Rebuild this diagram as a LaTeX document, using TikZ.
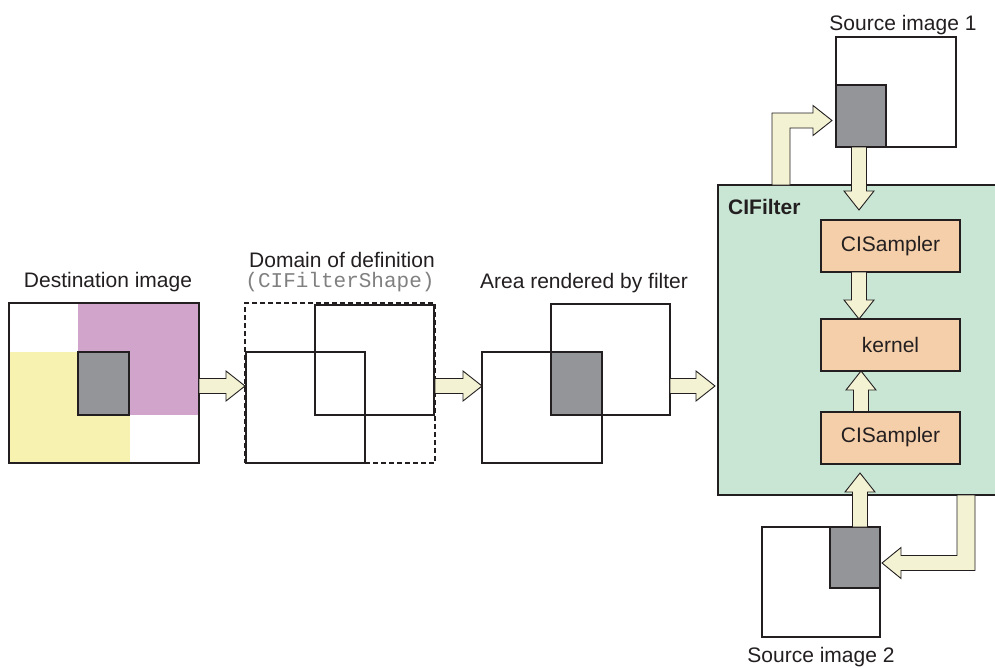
\documentclass[tikz,border=0pt]{standalone}
\usepackage{fontspec}
\setmainfont{Liberation Sans}
\setmonofont{Liberation Mono}
\usetikzlibrary{calc}
\definecolor{linec}{HTML}{231F20}
\definecolor{greenc}{HTML}{C9E6D5}
\definecolor{peachc}{HTML}{F5CFA9}
\definecolor{creamc}{HTML}{F3F2D3}
\definecolor{grayc}{HTML}{939598}
\definecolor{yellowc}{HTML}{F7F2AF}
\definecolor{magc}{HTML}{D1A5CB}
\definecolor{monoc}{HTML}{808080}
\newcommand\lbfont{\fontsize{21}{25}\selectfont}
\tikzset{
  imgrect/.style={draw=linec, line width=1.4, inner sep=0, outer sep=0},
  fat/.style={draw=linec, fill=creamc, line width=0.9, line join=miter},
  boxline/.style={draw=linec, line width=2},
  pbox/.style={draw=linec, line width=2, fill=peachc, inner sep=0, outer sep=0,
    minimum width=139, minimum height=52, font=\lbfont, text=linec},
  lbl/.style={inner sep=0, anchor=base, font=\lbfont, text=linec}
}
% horizontal arrow pointing right, tail #1, tip at x of #2
\newcommand\fatR[2]{\draw[fat] ($(#1)+(0,-7.5)$) -- ($(#2 |- #1)+(-19,-7.5)$) -- ($(#2 |- #1)+(-19,-15)$) -- (#2 |- #1) -- ($(#2 |- #1)+(-19,15)$) -- ($(#2 |- #1)+(-19,7.5)$) -- ($(#1)+(0,7.5)$) -- cycle;}
% vertical arrow pointing down (image y grows)
\newcommand\fatD[2]{\draw[fat] ($(#1)+(-7.5,0)$) -- ($(#1 |- #2)+(-7.5,-19)$) -- ($(#1 |- #2)+(-15,-19)$) -- (#1 |- #2) -- ($(#1 |- #2)+(15,-19)$) -- ($(#1 |- #2)+(7.5,-19)$) -- ($(#1)+(7.5,0)$) -- cycle;}
% vertical arrow pointing up
\newcommand\fatU[2]{\draw[fat] ($(#1)+(-7.5,0)$) -- ($(#1 |- #2)+(-7.5,19)$) -- ($(#1 |- #2)+(-15,19)$) -- (#1 |- #2) -- ($(#1 |- #2)+(15,19)$) -- ($(#1 |- #2)+(7.5,19)$) -- ($(#1)+(7.5,0)$) -- cycle;}
\begin{document}
\begin{tikzpicture}[x=1pt,y=-1pt]
\useasboundingbox (0,0) rectangle (995,667);

% Destination image
\fill[yellowc] (9,352) rectangle (130,463);
\fill[magc] (78,303) rectangle (199,415);
\node[imgrect, fill=grayc, minimum width=51, minimum height=63, anchor=north west] (dgray) at (78,352) {};
\node[imgrect, minimum width=190, minimum height=160, anchor=north west] (dest) at (9,303) {};
\node[lbl] (ldest) at (108,287) {Destination image};

% Domain of definition
\node[imgrect, line width=1.6, dash pattern=on 5pt off 3pt, minimum width=190, minimum height=160, anchor=north west] (dom) at (245,303) {};
\node[imgrect, line width=2, minimum width=119, minimum height=111, anchor=north west] (domA) at (246,352) {};
\node[imgrect, line width=2, minimum width=119, minimum height=110, anchor=north west] (domB) at (315,305) {};
\node[lbl] (ldom) at (342,267) {Domain of definition};
\node[lbl, font=\lbfont\ttfamily, text=monoc] (lshape) at (340,287) {(CIFilterShape)};

% Area rendered by filter
\node[imgrect, minimum width=120, minimum height=111, anchor=north west] (areaA) at (482,352) {};
\node[imgrect, minimum width=119, minimum height=111, anchor=north west] (areaB) at (551,304) {};
\node[imgrect, fill=grayc, minimum width=51, minimum height=63, anchor=north west] (agray) at (551,352) {};
\node[lbl] (larea) at (584,288) {Area rendered by filter};

% CIFilter
\node[fill=greenc, inner sep=0, outer sep=0, minimum width=277, minimum height=310, anchor=north west] (filter) at (718,185) {};
\draw[boxline] (filter.north east) -- (filter.north west) -- (filter.south west) -- (filter.south east);
\node[anchor=base west, inner sep=0, font=\lbfont\bfseries, text=linec] (ftitle) at (728,214) {CIFilter};
\node[pbox] (sampA) at (890.5,246) {CISampler};
\node[pbox] (kern) at (890.5,345) {kernel};
\node[pbox] (sampB) at (890.5,437.5) {CISampler};

% Source images
\node[imgrect, minimum width=120, minimum height=110, anchor=north west] (src1) at (836,37) {};
\node[imgrect, fill=grayc, minimum width=50, minimum height=62, anchor=north west] (s1gray) at (836,85) {};
\node[lbl] (ls1) at (903,30) {Source image 1};
\node[imgrect, minimum width=118, minimum height=110, anchor=north west] (src2) at (762,527) {};
\node[imgrect, fill=grayc, minimum width=50, minimum height=61, anchor=north west] (s2gray) at (830,527) {};
\node[lbl] (ls2) at (821,662) {Source image 2};

% horizontal arrows
\coordinate (a1s) at ($(dest.east)+(0,3)$);
\coordinate (a1e) at (dom.west |- a1s);
\coordinate (a2s) at (dom.east |- a1s);
\coordinate (a2e) at (areaA.west |- a1s);
\coordinate (a3s) at (areaB.east |- a1s);
\coordinate (a3e) at ($(filter.west |- a1s)+(-3,0)$);
\fatR{a1s}{a1e}
\fatR{a2s}{a2e}
\fatR{a3s}{a3e}

% vertical arrows
\coordinate (vAs) at ($(src1.south west)+(23,0)$);
\coordinate (vAe) at ($(vAs |- filter.north)+(0,25)$);
\fatD{vAs}{vAe}
\coordinate (vCs) at ($(sampA.south west)+(38,0)$);
\coordinate (vCe) at (vCs |- kern.north);
\fatD{vCs}{vCe}
\coordinate (vDs) at ($(sampB.north west)+(40,0)$);
\coordinate (vDe) at (vDs |- kern.south);
\fatU{vDs}{vDe}
\coordinate (vEs) at ($(src2.north west)+(98,0)$);
\coordinate (vEe) at ($(vEs |- filter.south)+(0,-22)$);
\fatU{vEs}{vEe}

% elbow arrow: CIFilter -> Source image 1
\coordinate (eb1) at ($(filter.north west)+(63,0)$);
\coordinate (eb2) at ($(src1.west)+(-4,28.5)$);
\draw[fat] ($(eb1)+(-9,0)$) -- ($(eb1 |- eb2)+(-9,-7.5)$) -- ($(eb2)+(-19,-7.5)$) -- ($(eb2)+(-19,-15)$) -- (eb2) -- ($(eb2)+(-19,15)$) -- ($(eb2)+(-19,7.5)$) -- ($(eb1 |- eb2)+(9,7.5)$) -- ($(eb1)+(9,0)$) -- cycle;

% elbow arrow: CIFilter -> Source image 2
\coordinate (ef1) at ($(filter.south west)+(248,0)$);
\coordinate (ef2) at ($(src2.east)+(2,-19)$);
\draw[fat] ($(ef1)+(-9,0)$) -- ($(ef1 |- ef2)+(-9,-7.5)$) -- ($(ef2)+(19,-7.5)$) -- ($(ef2)+(19,-15.5)$) -- (ef2) -- ($(ef2)+(19,15.5)$) -- ($(ef2)+(19,7.5)$) -- ($(ef1 |- ef2)+(9,7.5)$) -- ($(ef1)+(9,0)$) -- cycle;
\end{tikzpicture}
\end{document}
